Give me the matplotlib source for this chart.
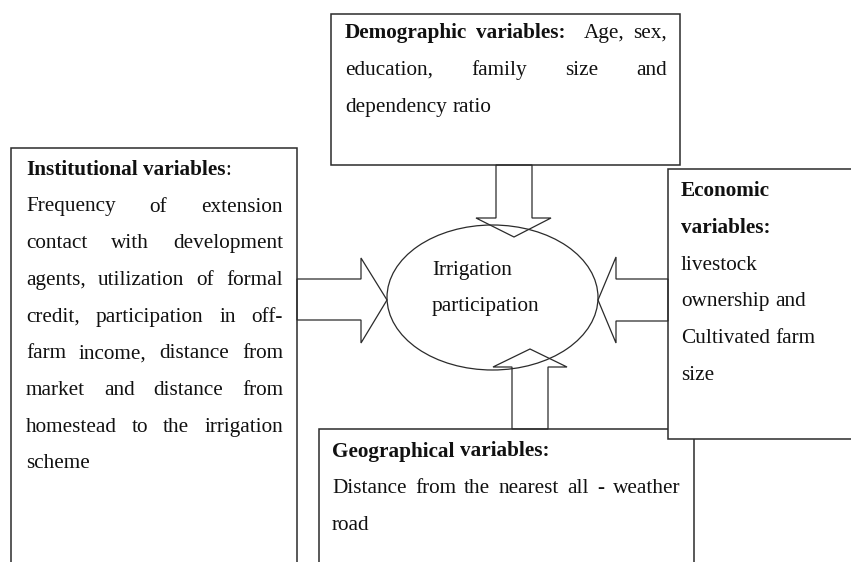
import matplotlib
matplotlib.use('Agg')
import matplotlib.pyplot as plt
import matplotlib.patches as patches

FONT = ['Liberation Serif', 'DejaVu Serif']
FS = 15.3
LINE_COLOR = '#2b2b2b'

# Texto de cada caixa (palavras entre *...* em negrito; True = justificado)
demographic_lines = [
    ("*Demographic* *variables:*  Age, sex,", True),
    ("education, family size and", True),
    ("dependency ratio", False),
]
institutional_lines = [
    ("*Institutional* *variables*:", False),
    ("Frequency of extension", True),
    ("contact with development", True),
    ("agents, utilization of formal", True),
    ("credit, participation in off-", True),
    ("farm income, distance from", True),
    ("market and distance from", True),
    ("homestead to the irrigation", True),
    ("scheme", False),
]
economic_lines = [
    ("*Economic*", False),
    ("*variables:*", False),
    ("livestock", False),
    ("ownership and", False),
    ("Cultivated farm", False),
    ("size", False),
]
geographical_lines = [
    ("*Geographical* *variables:*", False),
    ("Distance from the nearest all - weather", True),
    ("road", False),
]
center_lines = ["Irrigation", "participation"]

fig = plt.figure(figsize=(8.51, 5.62), dpi=100, facecolor='white')
ax = fig.add_axes([0, 0, 1, 1])
ax.set_xlim(0, 851)
ax.set_ylim(562, 0)
ax.axis('off')
renderer = fig.canvas.get_renderer()


def largura(s, bold):
    if not s:
        return 0.0
    t = ax.text(0, 0, s, fontsize=FS, family=FONT,
                fontweight='bold' if bold else 'normal')
    w = t.get_window_extent(renderer).width
    t.remove()
    return w


def partes(palavra):
    # divide uma palavra em pedaços (texto, negrito)
    segs = palavra.split('*')
    return [(s, i % 2 == 1) for i, s in enumerate(segs) if s]


def escrever_linha(linha, x0, x1, y, justificar):
    palavras = linha.split(' ')
    n_espacos = len(palavras) - 1
    palavras_ok = [partes(p) for p in palavras]
    larg = [sum(largura(s, b) for s, b in p) for p in palavras_ok]
    if justificar and n_espacos > 0:
        gap = (x1 - x0 - sum(larg)) / n_espacos
    else:
        gap = largura('a a', False) - largura('aa', False)
    x = x0
    for p, w in zip(palavras_ok, larg):
        xx = x
        for s, b in p:
            ax.text(xx, y, s, fontsize=FS, family=FONT, color='#111111',
                    fontweight='bold' if b else 'normal',
                    ha='left', va='baseline', zorder=6)
            xx += largura(s, b)
        x += w + gap


def caixa(x0, y0, x1, y1, z):
    ax.add_patch(patches.Rectangle((x0, y0), x1 - x0, y1 - y0, facecolor='white',
                                   edgecolor=LINE_COLOR, lw=1.1, zorder=z))


def seta(pts):
    ax.add_patch(patches.Polygon(pts, closed=True, fill=False,
                                 edgecolor=LINE_COLOR, lw=0.9, zorder=4))


# Caixas
caixa(331, 14, 680, 165, 2)      # demográficas
caixa(11, 148, 297, 600, 2)      # institucionais
caixa(319, 429, 694, 600, 2)     # geográficas
caixa(668, 169, 900, 439, 3)     # econômicas (por cima)

# Elipse central
ax.add_patch(patches.Ellipse((492.5, 297.5), 211, 145, fill=False,
                             edgecolor=LINE_COLOR, lw=0.9, zorder=4))

# Setas
seta([(496, 165), (496, 218), (476, 218), (514, 237), (551, 218), (532, 218), (532, 165)])
seta([(297, 279), (361, 279), (361, 258), (387, 300), (361, 343), (361, 320), (297, 320)])
seta([(668, 279), (616, 279), (616, 257), (598, 300), (616, 343), (616, 321), (668, 321)])
seta([(512, 429), (512, 367), (493, 367), (530, 349), (567, 367), (548, 367), (548, 429)])

# Textos
for i, (l, j) in enumerate(demographic_lines):
    escrever_linha(l, 345, 667, 38 + 37 * i, j)
for i, (l, j) in enumerate(institutional_lines):
    y = 175 if i == 0 else 211.5 + 36.7 * (i - 1)
    escrever_linha(l, 26, 283, y, j)
for i, (l, j) in enumerate(economic_lines):
    escrever_linha(l, 681, 840, 196 + 36.8 * i, j)
for i, (l, j) in enumerate(geographical_lines):
    escrever_linha(l, 332, 680, 456.5 + 36.7 * i, j)
for i, l in enumerate(center_lines):
    ax.text(432, 275 + 35.7 * i, l, fontsize=FS, family=FONT, color='#111111',
            ha='left', va='baseline', zorder=6)

fig.savefig('out.png', dpi=100, facecolor='white')
